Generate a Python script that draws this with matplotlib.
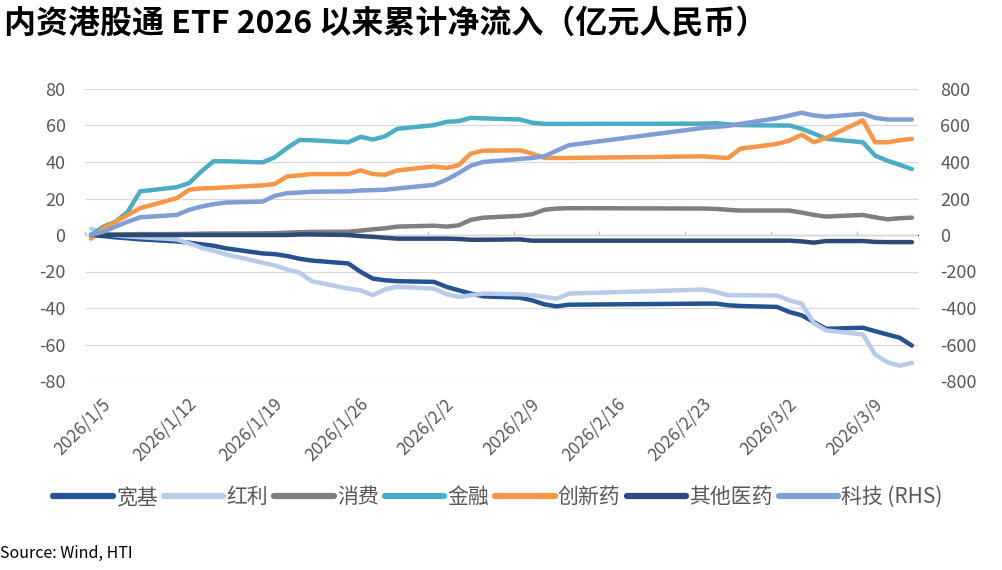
import pandas as pd
import matplotlib
matplotlib.use('Agg')
import matplotlib.pyplot as plt
import matplotlib.dates as mdates
from matplotlib.transforms import ScaledTranslation

plt.rcParams['font.family'] = ['Noto Sans CJK SC', 'DejaVu Sans']
plt.rcParams['axes.unicode_minus'] = False

# trading days (southbound closed over the Spring Festival break)
dates = ['2026-01-05', '2026-01-06', '2026-01-07', '2026-01-08', '2026-01-09',
         '2026-01-12', '2026-01-13', '2026-01-14', '2026-01-15', '2026-01-16',
         '2026-01-19', '2026-01-20', '2026-01-21', '2026-01-22', '2026-01-23',
         '2026-01-26', '2026-01-27', '2026-01-28', '2026-01-29', '2026-01-30',
         '2026-02-02', '2026-02-03', '2026-02-04', '2026-02-05', '2026-02-06',
         '2026-02-09', '2026-02-10', '2026-02-11', '2026-02-12', '2026-02-13',
         '2026-02-24', '2026-02-25', '2026-02-26', '2026-02-27',
         '2026-03-02', '2026-03-03', '2026-03-04', '2026-03-05', '2026-03-06',
         '2026-03-09', '2026-03-10', '2026-03-11', '2026-03-12', '2026-03-13']

kuanji = [0, -0.6, -1.3, -1.8, -2.4,
          -3.5, -4.2, -5.1, -5.9, -7.3,
          -10.1, -10.5, -11.5, -13.0, -14.0,
          -15.6, -20.2, -23.9, -24.8, -25.3,
          -25.7, -28.4, -30.3, -32.1, -33.6,
          -34.3, -35.8, -38.0, -39.1, -38.2,
          -37.6, -37.6, -38.5, -38.9,
          -39.4, -42.2, -44.0, -47.7, -51.4,
          -50.8, -52.7, -54.5, -56.3, -60.6]

hongli = [3.5, 0.5, -0.3, -0.8, -1.2,
          -2.4, -4.6, -7.0, -8.6, -10.6,
          -15.2, -16.7, -18.9, -20.6, -25.3,
          -29.4, -30.3, -33.0, -29.7, -28.4,
          -29.4, -32.5, -33.9, -33.0, -32.1,
          -32.5, -33.0, -33.9, -34.9, -32.1,
          -29.9, -31.2, -33.0, -33.0,
          -33.2, -35.8, -37.6, -48.3, -52.3,
          -54.5, -65.5, -69.7, -71.6, -70.1]

xiaofei = [0, 0.2, 0.3, 0.4, 0.5,
           0.5, 0.6, 0.7, 0.8, 0.8,
           0.9, 1.0, 1.3, 1.5, 1.7,
           1.8, 2.4, 3.1, 3.7, 4.6,
           5.1, 4.6, 5.3, 8.3, 9.5,
           10.5, 11.4, 13.8, 14.5, 14.7,
           14.5, 14.3, 13.8, 13.4,
           13.4, 13.4, 12.3, 11.0, 10.1,
           11.0, 9.7, 8.6, 9.2, 9.5]

jinrong = [0, 4.6, 7.3, 12.8, 23.9,
           26.2, 28.4, 34.9, 40.4, 40.4,
           39.8, 42.6, 47.7, 52.1, 51.9,
           50.8, 53.8, 52.3, 54.1, 58.2,
           60.2, 62.0, 62.4, 64.2, 63.9,
           63.3, 61.5, 60.9, 60.9, 60.9,
           61.0, 61.3, 60.6, 60.2,
           60.0, 60.0, 58.2, 55.6, 52.7,
           50.8, 43.5, 40.7, 38.5, 36.1]

chuangxinyao = [-2.0, 3.7, 7.3, 11.0, 14.7,
                20.2, 24.8, 25.5, 25.7, 26.1,
                27.2, 28.0, 32.1, 32.7, 33.4,
                33.4, 35.4, 33.4, 33.0, 35.4,
                37.6, 36.7, 38.3, 44.6, 46.2,
                46.4, 44.6, 42.2, 42.2, 42.2,
                43.1, 42.6, 42.2, 47.3,
                49.9, 51.7, 55.0, 50.8, 53.2,
                62.9, 50.8, 50.8, 51.9, 52.7]

qita = [0, 0, 0, 0, 0,
        0, 0, 0, 0, 0,
        0, 0, 0, 0.3, 0.3,
        0, -0.6, -1.0, -1.5, -2.0,
        -2.0, -2.0, -2.2, -2.6, -2.6,
        -2.4, -3.1, -3.1, -3.1, -3.1,
        -3.1, -3.1, -3.1, -3.1,
        -3.1, -3.1, -3.5, -4.2, -3.3,
        -3.3, -3.8, -3.9, -3.9, -3.9]

# right hand scale
keji = [0, 18, 46, 73, 97,
        110, 138, 156, 169, 178,
        183, 215, 229, 233, 237,
        239, 244, 246, 248, 255,
        275, 303, 339, 380, 400,
        417, 422, 431, 462, 492,
        587, 592, 598, 609,
        640, 655, 670, 655, 648,
        664, 642, 633, 633, 633]

tick_dates = ['2026-01-05', '2026-01-12', '2026-01-19', '2026-01-26', '2026-02-02',
              '2026-02-09', '2026-02-16', '2026-02-23', '2026-03-02', '2026-03-09']

left_series = [('宽基', kuanji, '#245293'),
               ('红利', hongli, '#B8CBEA'),
               ('消费', xiaofei, '#7F7F7F'),
               ('金融', jinrong, '#4BACC6'),
               ('创新药', chuangxinyao, '#F79646'),
               ('其他医药', qita, '#2B4A78')]

d = pd.to_datetime(dates)
# excel date axis puts each day in the middle of its slot
x = mdates.date2num(d) + 0.5
start = mdates.date2num(pd.Timestamp('2026-01-05'))
ticks = mdates.date2num(pd.to_datetime(tick_dates))
tick_labels = [f'{t.year}/{t.month}/{t.day}' for t in pd.to_datetime(tick_dates)]

fig = plt.figure(figsize=(10.02, 5.70), dpi=100)
ax = fig.add_axes([85 / 1002, 1 - 381 / 570, 833 / 1002, 292 / 570])
ax2 = ax.twinx()

lw = 3.2
handles = []
for name, vals, col in left_series:
    h, = ax.plot(x, vals, color=col, lw=lw, solid_capstyle='round', solid_joinstyle='round', label=name)
    handles.append(h)
h, = ax2.plot(x, keji, color='#7F9ED6', lw=lw, solid_capstyle='round', solid_joinstyle='round', label='科技 (RHS)')
handles.append(h)

ax.set_xlim(start, start + 68)
ax.set_ylim(-80, 80)
ax2.set_ylim(-800, 800)
ax.set_yticks(range(-80, 81, 20))
ax2.set_yticks(range(-800, 801, 200))
ax.yaxis.grid(True, color='#D9D9D9', lw=0.9)
ax.set_axisbelow(True)

for a in (ax, ax2):
    for s in a.spines.values():
        s.set_visible(False)
ax.tick_params(axis='y', length=0, pad=14, labelsize=13, labelcolor='#595959')
ax2.tick_params(axis='y', length=0, pad=16, labelsize=13, labelcolor='#595959')

ax.set_xticks(ticks)
ax.set_xticklabels(tick_labels, rotation=45, ha='right', va='top', rotation_mode='anchor')
ax.tick_params(axis='x', length=0, pad=10, labelsize=12.5, labelcolor='#595959')
for lbl in ax.get_xticklabels():
    lbl.set_transform(lbl.get_transform() + ScaledTranslation(12 / 72, 0, fig.dpi_scale_trans))

# horizontal axis line sits at zero
zero_ax = ax.secondary_xaxis(0.5)
zero_ax.set_xticks(ticks)
zero_ax.set_xticklabels([])
zero_ax.spines['bottom'].set_color('#BFBFBF')
zero_ax.tick_params(axis='x', length=3, color='#BFBFBF', width=0.9)

leg = fig.legend(handles=handles, loc='center', bbox_to_anchor=(0.497, 1 - 497 / 570), ncol=7,
                 frameon=False, fontsize=15, handlelength=2.85, handletextpad=0.15,
                 columnspacing=0.3, labelcolor='#595959')
for lh in leg.get_lines():
    lh.set_linewidth(4.5)
    lh.set_solid_capstyle('round')

fig.text(0.004, 1 - 24 / 570, '内资港股通 ETF 2026 以来累计净流入（亿元人民币）', fontsize=23,
         fontweight='bold', ha='left', va='center', color='black')
fig.text(0.0, 1 - 553 / 570, 'Source: Wind, HTI', fontsize=11.5, ha='left', va='center', color='black')

fig.savefig('out.png', dpi=100)
